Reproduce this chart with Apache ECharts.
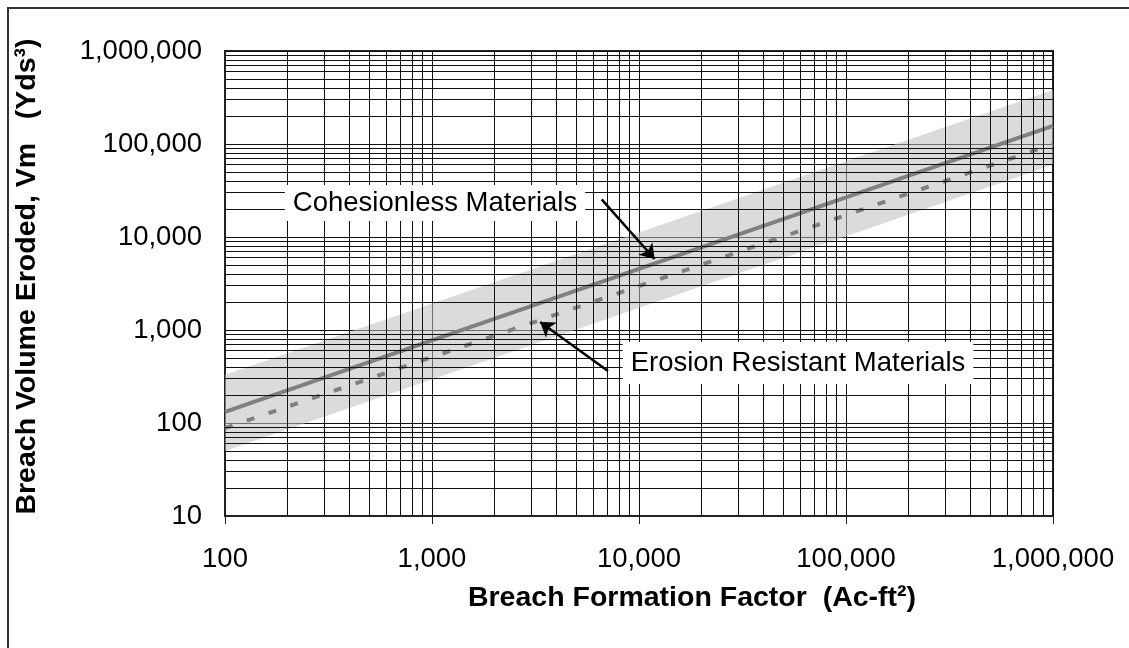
<!DOCTYPE html>
<html>
<head>
<meta charset="utf-8">
<script src="https://cdn.jsdelivr.net/npm/echarts@6/dist/echarts.min.js"></script>
<style>
html,body{margin:0;padding:0;background:#fff;}
#main{width:1129px;height:648px;}
</style>
</head>
<body>
<div id="main"></div>
<script>
// envelope band (upper / lower limits)
const bandX = [100, 1000000];
const bandUpper = [330, 380000];
const bandLower = [50, 60000];
// Cohesionless Materials (solid)
const cohesionlessX = [100, 1000000];
const cohesionlessY = [132, 157000];
// Erosion Resistant Materials (dashed)
const erosionX = [100, 1000000];
const erosionY = [88, 100000];

// grid decades and minor multipliers
const xDecades = [100, 1000, 10000, 100000];
const yDecades = [10, 100, 1000, 10000, 100000];
const minorSteps = [2, 3, 4, 5, 6, 7, 8, 9];

// callout arrows, [from, to] in data units
const cohesionArrow = [[6600, 25400], [11900, 5800]];
const erosionArrow = [[7080, 362], [3330, 1220]];

const FONT = "'Liberation Sans', Arial, sans-serif";

const minorX = [];
xDecades.forEach(d => minorSteps.forEach(m => minorX.push(d * m)));
const minorY = [];
yDecades.forEach(d => minorSteps.forEach(m => minorY.push(d * m)));

const fmt = v => Math.round(v).toLocaleString('en-US');

let myChart = echarts.init(document.getElementById('main'));
let option = {
    animation: false,
    grid: {
        left: 225, right: 76, top: 51, bottom: 132,
        show: true, borderColor: '#222', borderWidth: 2
    },
    xAxis: {
        type: 'log', logBase: 10, min: 100, max: 1000000,
        name: 'Breach Formation Factor  (Ac-ft²)',
        nameLocation: 'middle', nameGap: 68,
        nameTextStyle: { fontFamily: FONT, fontSize: 28.5, fontWeight: 'bold', color: '#000', padding: [0, 0, 0, 106] },
        axisLine: { show: true, lineStyle: { color: '#222', width: 2 } },
        axisTick: { show: true, length: 8, lineStyle: { color: '#222', width: 1 } },
        axisLabel: { formatter: fmt, fontFamily: FONT, fontSize: 27.5, color: '#000', margin: 29 },
        splitLine: { show: true, lineStyle: { color: '#111', width: 1 } }
    },
    yAxis: {
        type: 'log', logBase: 10, min: 10, max: 1000000,
        name: 'Breach Volume Eroded, Vm   (Yds³)',
        nameLocation: 'middle', nameGap: 183,
        nameTextStyle: { fontFamily: FONT, fontSize: 28.5, fontWeight: 'bold', color: '#000', padding: [0, 0, 0, 14] },
        axisLine: { show: true, lineStyle: { color: '#222', width: 2 } },
        axisTick: { show: false },
        axisLabel: { formatter: fmt, fontFamily: FONT, fontSize: 27.5, color: '#000', margin: 23 },
        splitLine: { show: true, lineStyle: { color: '#111', width: 1 } }
    },
    graphic: [
        {
            type: 'rect', z: 100, silent: true,
            shape: { x: 8, y: 8, width: 1200, height: 700 },
            style: { fill: 'none', stroke: '#333', lineWidth: 2 }
        },
        {
            type: 'text', z: 100, x: 435, y: 203,
            style: {
                text: 'Cohesionless Materials', font: '27.5px ' + FONT, fill: '#000',
                align: 'center', verticalAlign: 'middle',
                backgroundColor: '#fff', padding: [4, 8]
            }
        },
        {
            type: 'text', z: 100, x: 798, y: 363,
            style: {
                text: 'Erosion Resistant Materials', font: '27.5px ' + FONT, fill: '#000',
                align: 'center', verticalAlign: 'middle',
                backgroundColor: '#fff', padding: [7, 8]
            }
        }
    ],
    series: [
        {
            // minor grid lines
            type: 'line', z: 1, silent: true, data: [],
            markLine: {
                silent: true, symbol: 'none', animation: false,
                label: { show: false },
                lineStyle: { color: '#111', width: 1, type: 'solid' },
                emphasis: { disabled: true },
                data: minorX.map(v => ({ xAxis: v })).concat(minorY.map(v => ({ yAxis: v })))
            }
        },
        {
            type: 'custom', z: 2, silent: true, clip: true,
            data: bandX.map((x, i) => [x, bandLower[i], bandUpper[i]]),
            encode: { x: 0, y: [1, 2] },
            renderItem: function (params, api) {
                const i = params.dataIndex;
                if (i >= bandX.length - 1) return null;
                const pts = [
                    api.coord([bandX[i], bandUpper[i]]),
                    api.coord([bandX[i + 1], bandUpper[i + 1]]),
                    api.coord([bandX[i + 1], bandLower[i + 1]]),
                    api.coord([bandX[i], bandLower[i]])
                ];
                return { type: 'polygon', shape: { points: pts }, style: { fill: 'rgba(190,190,190,0.55)' } };
            }
        },
        {
            name: 'Cohesionless Materials', type: 'line', z: 3,
            showSymbol: false, silent: true,
            data: cohesionlessX.map((x, i) => [x, cohesionlessY[i]]),
            lineStyle: { color: '#808080', width: 4 }
        },
        {
            name: 'Erosion Resistant Materials', type: 'line', z: 3,
            showSymbol: false, silent: true,
            data: erosionX.map((x, i) => [x, erosionY[i]]),
            lineStyle: { color: '#808080', width: 4, type: [8, 15] }
        },
        {
            // callout arrows
            type: 'line', z: 4, silent: true, data: [],
            markLine: {
                silent: true, animation: false,
                symbol: ['none', 'arrow'], symbolSize: 14,
                label: { show: false },
                itemStyle: { color: '#000' },
                lineStyle: { color: '#000', width: 2.5, type: 'solid', opacity: 1 },
                emphasis: { disabled: true },
                data: [
                    [{ coord: cohesionArrow[0] }, { coord: cohesionArrow[1] }],
                    [{ coord: erosionArrow[0] }, { coord: erosionArrow[1] }]
                ]
            }
        }
    ]
};
myChart.setOption(option, true);
window.onresize = myChart.resize;
</script>
</body>
</html>
